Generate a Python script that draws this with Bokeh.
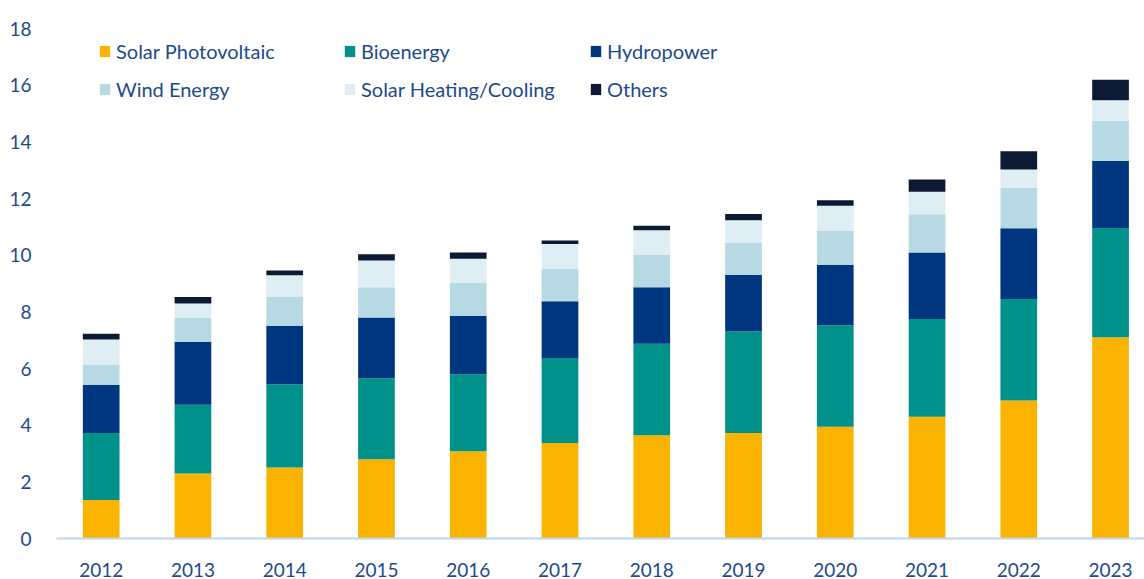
from bokeh.plotting import figure
from bokeh.models import ColumnDataSource, Legend, LegendItem, FixedTicker, Range1d
from bokeh.embed import file_html
from bokeh.resources import INLINE

years = ["2012", "2013", "2014", "2015", "2016", "2017", "2018", "2019", "2020", "2021", "2022", "2023"]
solar_pv = [1.36, 2.29, 2.51, 2.80, 3.08, 3.37, 3.64, 3.72, 3.94, 4.30, 4.87, 7.10]
bioenergy = [2.36, 2.43, 2.93, 2.86, 2.72, 3.00, 3.23, 3.59, 3.59, 3.45, 3.58, 3.86]
hydropower = [1.71, 2.22, 2.07, 2.14, 2.06, 2.00, 2.00, 1.99, 2.13, 2.34, 2.50, 2.36]
wind = [0.71, 0.84, 1.01, 1.07, 1.16, 1.14, 1.14, 1.15, 1.21, 1.35, 1.43, 1.42]
solar_heat = [0.88, 0.51, 0.77, 0.94, 0.85, 0.88, 0.87, 0.78, 0.87, 0.80, 0.64, 0.73]
others = [0.21, 0.23, 0.17, 0.22, 0.22, 0.13, 0.16, 0.22, 0.20, 0.43, 0.65, 0.72]
y_ticks = [0, 2, 4, 6, 8, 10, 12, 14, 16, 18]

series = ["pv", "bio", "hydro", "wind", "shc", "oth"]
names = ["Solar Photovoltaic", "Bioenergy", "Hydropower", "Wind Energy", "Solar Heating/Cooling", "Others"]
colors = ["#F9B300", "#00918A", "#00357F", "#B6D9E4", "#DFEEF2", "#0D1A33"]

xs = list(range(len(years)))
source = ColumnDataSource(dict(x=xs, pv=solar_pv, bio=bioenergy, hydro=hydropower,
                               wind=wind, shc=solar_heat, oth=others))

FONT = "Lato"
TXT = "#1D4A8A"

p = figure(width=1144, height=579, output_backend="svg", toolbar_location=None,
           x_range=Range1d(-0.487, 11.37), y_range=Range1d(0, 18),
           min_border_left=56, min_border_right=0, min_border_top=28, min_border_bottom=40)
p.outline_line_color = None
p.grid.visible = False

rs = p.vbar_stack(series, x="x", width=0.4, source=source, color=colors, line_color=None)

p.xaxis.ticker = FixedTicker(ticks=xs)
p.xaxis.major_label_overrides = {i: y for i, y in enumerate(years)}
p.xaxis.axis_line_color = "#BDD7EE"
p.xaxis.axis_line_width = 2
p.xaxis.major_tick_line_color = None
p.xaxis.minor_tick_line_color = None
p.xaxis.major_label_standoff = 18
p.yaxis.ticker = FixedTicker(ticks=y_ticks)
p.yaxis.axis_line_color = None
p.yaxis.major_tick_line_color = None
p.yaxis.minor_tick_line_color = None
p.yaxis.major_label_standoff = 19
for ax in (p.xaxis, p.yaxis):
    ax.major_label_text_font = FONT
    ax.major_label_text_font_size = "19px"
    ax.major_label_text_color = TXT

cols = [(0, 3, 42), (1, 4, 287), (2, 5, 533)]
for a, b, xpos in cols:
    lg = Legend(items=[LegendItem(label=names[a], renderers=[rs[a]]),
                       LegendItem(label=names[b], renderers=[rs[b]])],
                location=(xpos, 437), orientation="vertical",
                glyph_width=13, glyph_height=14, label_height=20, spacing=14,
                label_standoff=5, padding=0, margin=0,
                border_line_color=None, background_fill_alpha=0,
                label_text_font=FONT, label_text_font_size="20px", label_text_color=TXT)
    p.add_layout(lg, "center")

open("out.html", "w").write(file_html(p, INLINE))
